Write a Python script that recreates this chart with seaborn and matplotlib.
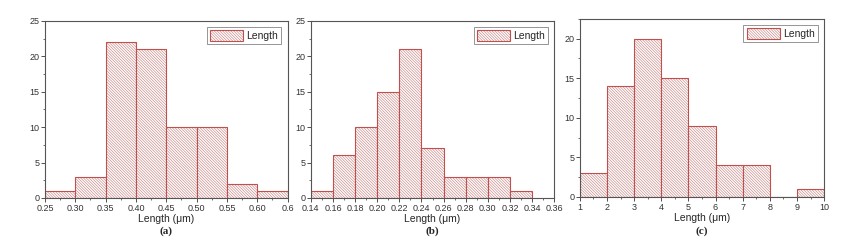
import numpy as np
import pandas as pd
import matplotlib
matplotlib.use("Agg")
import matplotlib.pyplot as plt
import matplotlib.colors as mcolors
import seaborn as sns
from matplotlib.ticker import AutoMinorLocator

# Panel (a)
edges_a = [0.25, 0.30, 0.35, 0.40, 0.45, 0.50, 0.55, 0.60, 0.65]
counts_a = [1, 3, 22, 21, 10, 10, 2, 1]
# Panel (b)
edges_b = [0.14, 0.16, 0.18, 0.20, 0.22, 0.24, 0.26, 0.28, 0.30, 0.32, 0.34]
counts_b = [1, 6, 10, 15, 21, 7, 3, 3, 3, 1]
# Panel (c)
edges_c = [1, 2, 3, 4, 5, 6, 7, 8, 9, 10]
counts_c = [3, 14, 20, 15, 9, 4, 4, 0, 1]

ticks_a = [0.25, 0.30, 0.35, 0.40, 0.45, 0.50, 0.55, 0.60, 0.65]
ticklabels_a = ["0.25", "0.30", "0.35", "0.40", "0.45", "0.50", "0.55", "0.60", "0.6"]
ticks_b = [0.14, 0.16, 0.18, 0.20, 0.22, 0.24, 0.26, 0.28, 0.30, 0.32, 0.34, 0.36]
ticks_c = [1, 2, 3, 4, 5, 6, 7, 8, 9, 10]

sns.set_style("white")
plt.rcParams['font.family'] = ['Liberation Sans', 'DejaVu Sans']
plt.rcParams['hatch.linewidth'] = 0.45

red = '#c0504d'
hatch_col = mcolors.to_rgba('#c98583')
fig = plt.figure(figsize=(8.54, 2.49), dpi=100)

panels = [
    (edges_a, counts_a, [0.0527, 0.205, 0.284, 0.711], (0.25, 0.65), (0, 25), ticks_a, ticklabels_a, [0, 5, 10, 15, 20, 25], '(a)'),
    (edges_b, counts_b, [0.364, 0.205, 0.285, 0.711], (0.14, 0.36), (0, 25), ticks_b, ["%.2f" % t for t in ticks_b], [0, 5, 10, 15, 20, 25], '(b)'),
    (edges_c, counts_c, [0.679, 0.209, 0.286, 0.715], (1, 10), (0, 22.5), ticks_c, [str(t) for t in ticks_c], [0, 5, 10, 15, 20], '(c)'),
]

for edges, counts, pos, xlim, ylim, xt, xtl, yt, cap in panels:
    ax = fig.add_axes(pos)
    centers = [(edges[i] + edges[i + 1]) / 2 for i in range(len(counts))]
    df = pd.DataFrame({'Length': centers, 'count': counts})
    sns.histplot(data=df, x='Length', weights='count', bins=edges, ax=ax,
                 color='white', edgecolor=red, linewidth=0.8, alpha=1,
                 hatch='\\' * 12, label='Length')
    for p in ax.patches:
        p._hatch_color = hatch_col
    ax.set_xlim(*xlim)
    ax.set_ylim(*ylim)
    ax.set_xticks(xt)
    ax.set_xticklabels(xtl)
    ax.set_yticks(yt)
    ax.xaxis.set_minor_locator(AutoMinorLocator(2))
    ax.yaxis.set_minor_locator(AutoMinorLocator(2))
    ax.tick_params(which='both', direction='out', bottom=True, left=True, top=False, right=False,
                   labelsize=6.5, colors='#333333', pad=1)
    ax.tick_params(which='major', length=3, width=0.6)
    ax.tick_params(which='minor', length=1.5, width=0.5)
    for s in ax.spines.values():
        s.set_color('#555555')
        s.set_linewidth(0.8)
    ax.set_ylabel('')
    ax.set_xlabel('Length (μm)', fontsize=7.5, labelpad=1)
    leg = ax.legend(loc='upper right', fontsize=7.5, frameon=True, fancybox=False,
                    handlelength=3.2, handleheight=1.2, borderpad=0.3, handletextpad=0.3,
                    borderaxespad=0.6)
    for h in leg.legend_handles:
        h._hatch_color = hatch_col
    leg.get_frame().set_edgecolor('#666666')
    leg.get_frame().set_linewidth(0.6)
    cx = pos[0] + pos[2] / 2
    fig.text(cx, 0.07, cap, ha='center', va='center', fontsize=8, fontweight='bold',
             family=['Liberation Serif', 'DejaVu Serif'])

fig.savefig('out.png', dpi=100)
